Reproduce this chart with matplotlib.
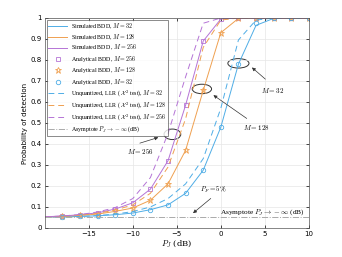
import matplotlib
matplotlib.use("Agg")
import matplotlib.pyplot as plt
from matplotlib.patches import Ellipse

plt.rcParams['mathtext.fontset'] = 'cm'

# jamming power P_J (dB)
pj = [-20, -18, -16, -14, -12, -10, -8, -6, -4, -2, 0, 2, 4, 6, 8, 10]
pj_an = pj[1:]

# simulated BDD
sim_32 = [0.051, 0.053, 0.055, 0.058, 0.063, 0.071, 0.087, 0.11, 0.165, 0.275, 0.48, 0.78, 0.965, 0.998, 1.0, 1.0]
sim_128 = [0.052, 0.055, 0.06, 0.066, 0.079, 0.095, 0.132, 0.21, 0.37, 0.655, 0.93, 0.998, 1.0, 1.0, 1.0, 1.0]
sim_256 = [0.053, 0.057, 0.063, 0.072, 0.09, 0.12, 0.185, 0.32, 0.585, 0.89, 0.995, 1.0, 1.0, 1.0, 1.0, 1.0]

# analytical BDD (markers)
an_256 = [0.057, 0.063, 0.072, 0.09, 0.12, 0.185, 0.32, 0.585, 0.89, 0.997, 1.0, 1.0, 1.0, 1.0, 1.0]
an_128 = [0.055, 0.06, 0.066, 0.08, 0.095, 0.132, 0.211, 0.37, 0.658, 0.93, 0.998, 1.0, 1.0, 1.0, 1.0]
an_32 = [0.053, 0.055, 0.058, 0.063, 0.071, 0.087, 0.11, 0.165, 0.275, 0.483, 0.78, 0.975, 0.998, 1.0, 1.0]

# unquantized LLR (chi^2 test)
llr_32 = [0.051, 0.052, 0.055, 0.059, 0.066, 0.078, 0.1, 0.14, 0.21, 0.33, 0.57, 0.895, 0.99, 1.0, 1.0, 1.0]
llr_128 = [0.052, 0.055, 0.06, 0.07, 0.085, 0.11, 0.165, 0.29, 0.52, 0.86, 0.99, 1.0, 1.0, 1.0, 1.0, 1.0]
llr_256 = [0.053, 0.057, 0.064, 0.076, 0.097, 0.14, 0.24, 0.45, 0.72, 0.975, 1.0, 1.0, 1.0, 1.0, 1.0, 1.0]

pf = 0.05

blue = '#4FADE6'
orange = '#EFA050'
purple = '#B574D6'

fig = plt.figure(figsize=(3.42, 2.57), dpi=100)
ax = fig.add_axes([0.131, 0.113, 0.772, 0.817])

lw = 0.7
ax.plot(pj, sim_32, color=blue, lw=lw, label='Simulated BDD, $M=32$')
ax.plot(pj, sim_128, color=orange, lw=lw, label='Simulated BDD, $M=128$')
ax.plot(pj, sim_256, color=purple, lw=lw, label='Simulated BDD , $M=256$')
ax.plot(pj_an, an_256, ls='none', marker='s', ms=3.2, mfc='none', mec=purple, mew=0.6,
        label='Analytical BDD, $M=256$')
ax.plot(pj_an, an_128, ls='none', marker='*', ms=5, mfc='none', mec=orange, mew=0.6,
        label='Analytical BDD, $M=128$')
ax.plot(pj_an, an_32, ls='none', marker='o', ms=3.2, mfc='none', mec=blue, mew=0.6,
        label='Analytical BDD, $M=32$')
ax.plot(pj, llr_32, color=blue, lw=lw, ls=(0, (6, 4)),
        label=r'Unquantized, LLR ( $\mathcal{X}^2$ test), $M=32$')
ax.plot(pj, llr_128, color=orange, lw=lw, ls=(0, (6, 4)),
        label=r'Unquantized, LLR ( $\mathcal{X}^2$ test), $M=128$')
ax.plot(pj, llr_256, color=purple, lw=lw, ls=(0, (6, 4)),
        label=r'Unquantized, LLR ( $\mathcal{X}^2$ test), $M=256$')
ax.axhline(pf, color='#AAAAAA', lw=lw, ls='-.',
           label=r'Asymptote $P_J \to -\infty$ (dB)')

ax.set_xlim(-20, 10)
ax.set_ylim(0, 1)
ax.set_xticks([-15, -10, -5, 0, 5, 10])
ax.set_yticks([i / 10 for i in range(11)])
ax.set_yticklabels(['0', '0.1', '0.2', '0.3', '0.4', '0.5', '0.6', '0.7', '0.8', '0.9', '1'])
ax.grid(True, color='#E6E6E6', lw=0.5)
ax.tick_params(labelsize=5, length=2, width=0.5, direction='in', top=True, right=True, pad=2)
for s in ax.spines.values():
    s.set_linewidth(0.5)
    s.set_color('#555555')
ax.set_xlabel('$P_J$ (dB)', fontsize=6, family='serif', labelpad=1)
ax.set_ylabel('Probability of detection', fontsize=5, labelpad=2)

leg = ax.legend(loc='upper left', prop={'family': 'Liberation Serif', 'size': 4.3},
                frameon=True, fancybox=False, edgecolor='#333333', handlelength=3.2,
                borderpad=0.3, labelspacing=0.25, handletextpad=0.6, borderaxespad=0.3)
leg.get_frame().set_linewidth(0.5)

# annotations
for (cx, cy, w, h) in [(2.0, 0.784, 2.4, 0.045), (-2.15, 0.662, 2.2, 0.045), (-5.5, 0.446, 1.9, 0.05)]:
    ax.add_patch(Ellipse((cx, cy), w, h, fill=False, ec='#333333', lw=0.7))

aprops = dict(arrowstyle='-|>', color='#333333', lw=0.5, mutation_scale=5)
ax.annotate('', xy=(3.3, 0.773), xytext=(5.3, 0.70), arrowprops=aprops)
ax.text(5.9, 0.657, '$M=32$', fontsize=5, ha='center', va='center')
ax.annotate('', xy=(-1.1, 0.64), xytext=(3.2, 0.514), arrowprops=aprops)
ax.text(4.0, 0.48, '$M=128$', fontsize=5, ha='center', va='center')
ax.annotate('', xy=(-6.8, 0.435), xytext=(-9.5, 0.40), arrowprops=aprops)
ax.text(-9.1, 0.363, '$M=256$', fontsize=5, ha='center', va='center')
ax.annotate('', xy=(-3.4, 0.062), xytext=(-0.9, 0.149), arrowprops=aprops)
ax.text(-0.8, 0.18, r'$P_F=5\%$', fontsize=5, ha='center', va='center')
ax.text(4.7, 0.075, r'Asymptote $P_J \to -\infty$ (dB)', fontsize=5.3, ha='center', va='center',
        family='Liberation Serif')

fig.savefig('out.png', dpi=100)
